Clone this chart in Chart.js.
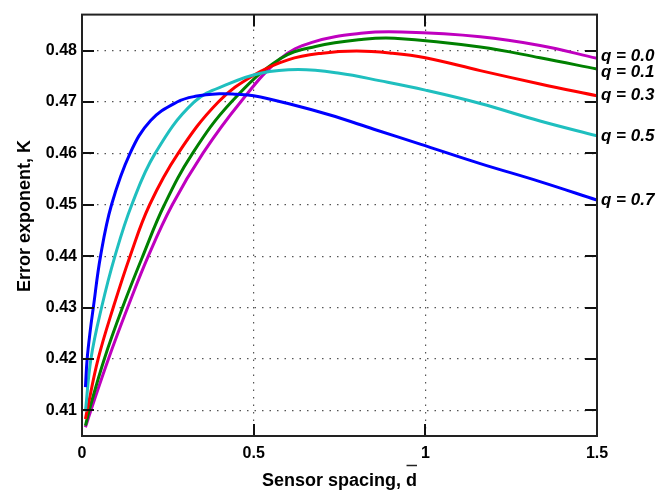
<!DOCTYPE html>
<html>
<head>
<meta charset="utf-8">
<script src="https://cdn.jsdelivr.net/npm/chart.js@4.4.0/dist/chart.umd.min.js"></script>
<style>
  body { margin: 0; background: #fff; }
  #wrap { width: 672px; height: 495px; }
</style>
</head>
<body>
<div id="wrap"><canvas id="chart" width="672" height="495"></canvas></div>
<script>
// values
const xTicks = [0, 0.5, 1, 1.5]
const yTicks = [0.41, 0.42, 0.43, 0.44, 0.45, 0.46, 0.47, 0.48]

const q07_x = [0.01, 0.015, 0.024, 0.033, 0.054, 0.086, 0.14, 0.2, 0.277, 0.33, 0.4, 0.45, 0.5, 0.6, 0.72, 0.85, 0.985, 1.16, 1.334, 1.5]
const q07_y = [0.4145, 0.42, 0.4255, 0.43, 0.44, 0.45, 0.46, 0.4664, 0.47, 0.4711, 0.4716, 0.4715, 0.4712, 0.4697, 0.4675, 0.4647, 0.4618, 0.458, 0.4545, 0.4509]

const q05_x = [0.01, 0.026, 0.057, 0.096, 0.145, 0.213, 0.327, 0.43, 0.52, 0.63, 0.75, 0.87, 1.0, 1.16, 1.334, 1.5]
const q05_y = [0.4098, 0.42, 0.43, 0.44, 0.45, 0.46, 0.47, 0.4736, 0.4756, 0.4763, 0.4756, 0.4741, 0.4723, 0.4697, 0.4663, 0.4634]

const q03_x = [0.01, 0.015, 0.047, 0.091, 0.14, 0.197, 0.28, 0.397, 0.5, 0.6, 0.7, 0.8, 0.9, 1.0, 1.16, 1.334, 1.5]
const q03_y = [0.4083, 0.41, 0.42, 0.43, 0.44, 0.45, 0.46, 0.47, 0.4752, 0.4782, 0.4795, 0.4799, 0.4795, 0.4786, 0.4761, 0.4735, 0.4712]

const q01_x = [0.01, 0.021, 0.065, 0.118, 0.177, 0.24, 0.322, 0.435, 0.577, 0.68, 0.82, 0.91, 1.16, 1.334, 1.5]
const q01_y = [0.407, 0.41, 0.42, 0.43, 0.44, 0.45, 0.46, 0.47, 0.4784, 0.4808, 0.4822, 0.4824, 0.4807, 0.4786, 0.4764]

const q00_x = [0.01, 0.026, 0.077, 0.133, 0.193, 0.263, 0.352, 0.462, 0.577, 0.67, 0.82, 0.93, 1.16, 1.334, 1.5]
const q00_y = [0.4067, 0.41, 0.42, 0.43, 0.44, 0.45, 0.46, 0.47, 0.4784, 0.4816, 0.4834, 0.4836, 0.4827, 0.481, 0.4785]

const seriesNames = ['q = 0.7', 'q = 0.5', 'q = 0.3', 'q = 0.1', 'q = 0.0']
const seriesX = [q07_x, q05_x, q03_x, q01_x, q00_x]
const seriesY = [q07_y, q05_y, q03_y, q01_y, q00_y]
const colors = ['#0000ff', '#1fbfbf', '#ff0000', '#008000', '#bf00bf']
const labelNudge = [0, 0, 0, 3, -2]

const FONT = '"Liberation Sans", Arial, sans-serif'

let datasets = []
for (let i = 0; i < seriesNames.length; i++) {
    let pts = []
    for (let j = 0; j < seriesX[i].length; j++) {
        pts.push({x: seriesX[i][j], y: seriesY[i][j]})
    }
    datasets.push({
        label: seriesNames[i],
        data: pts,
        showLine: true,
        borderColor: colors[i],
        borderWidth: 3,
        pointRadius: 0,
        tension: 0.4,
        fill: false
    })
}

const frame = {
    id: 'frame',
    afterDraw(chart) {
        const ctx = chart.ctx
        const a = chart.chartArea
        const xs = chart.scales.x
        const ys = chart.scales.y
        ctx.save()

        // inward ticks, matlab style
        ctx.strokeStyle = '#111'
        ctx.lineWidth = 2
        ctx.beginPath()
        xTicks.forEach(function(v){
            let px = Math.round(xs.getPixelForValue(v))
            ctx.moveTo(px, a.bottom); ctx.lineTo(px, a.bottom - 12)
            ctx.moveTo(px, a.top); ctx.lineTo(px, a.top + 12)
        })
        yTicks.forEach(function(v){
            let py = Math.round(ys.getPixelForValue(v))
            ctx.moveTo(a.left, py); ctx.lineTo(a.left + 12, py)
            ctx.moveTo(a.right, py); ctx.lineTo(a.right - 12, py)
        })
        ctx.stroke()

        ctx.strokeStyle = '#222'
        ctx.strokeRect(a.left, a.top, a.right - a.left, a.bottom - a.top)

        // axis titles
        ctx.fillStyle = '#000'
        ctx.font = 'bold 18px ' + FONT
        ctx.textAlign = 'center'
        ctx.textBaseline = 'alphabetic'
        const xt = 'Sensor spacing, d'
        const cx = (a.left + a.right) / 2
        ctx.fillText(xt, cx, 486)
        const w = ctx.measureText(xt).width
        const dw = ctx.measureText('d').width
        ctx.lineWidth = 1.5
        ctx.beginPath()
        ctx.moveTo(cx + w / 2 - dw + 0.5, 465.5)
        ctx.lineTo(cx + w / 2, 465.5)
        ctx.stroke()

        ctx.save()
        ctx.translate(25, 216)
        ctx.rotate(-Math.PI / 2)
        ctx.textBaseline = 'middle'
        ctx.fillText('Error exponent, K', 0, 0)
        ctx.restore()

        // series labels on the right
        ctx.font = 'italic bold 17px ' + FONT
        ctx.textAlign = 'left'
        ctx.textBaseline = 'middle'
        for (let i = 0; i < seriesNames.length; i++) {
            let yv = seriesY[i][seriesY[i].length - 1]
            ctx.fillText(seriesNames[i], a.right + 4, ys.getPixelForValue(yv) + labelNudge[i])
        }
        ctx.restore()
    }
}

new Chart(document.getElementById('chart'), {
    type: 'scatter',
    data: { datasets: datasets },
    options: {
        responsive: false,
        animation: false,
        devicePixelRatio: 1,
        layout: { padding: { left: 0, right: 75, top: 4, bottom: 0 } },
        plugins: {
            legend: { display: false },
            tooltip: { enabled: false }
        },
        scales: {
            x: {
                type: 'linear',
                min: 0,
                max: 1.5,
                afterBuildTicks: function(scale){ scale.ticks = xTicks.map(v => ({value: v})) },
                afterFit: function(scale){ scale.height = 59 },
                ticks: {
                    color: '#000',
                    padding: 8,
                    maxRotation: 0,
                    font: { family: FONT, size: 16, weight: 'bold' },
                    callback: v => String(v)
                },
                grid: { color: '#555', lineWidth: 1.2, drawTicks: false },
                border: { display: false, dash: [1.5, 6] }
            },
            y: {
                type: 'linear',
                min: 0.405,
                max: 0.487,
                afterBuildTicks: function(scale){ scale.ticks = yTicks.map(v => ({value: v})) },
                afterFit: function(scale){ scale.width = 82 },
                ticks: {
                    color: '#000',
                    padding: 5,
                    font: { family: FONT, size: 16, weight: 'bold' },
                    callback: v => v.toFixed(2)
                },
                grid: { color: '#555', lineWidth: 1.2, drawTicks: false },
                border: { display: false, dash: [1.5, 6] }
            }
        }
    },
    plugins: [frame]
})
</script>
</body>
</html>
